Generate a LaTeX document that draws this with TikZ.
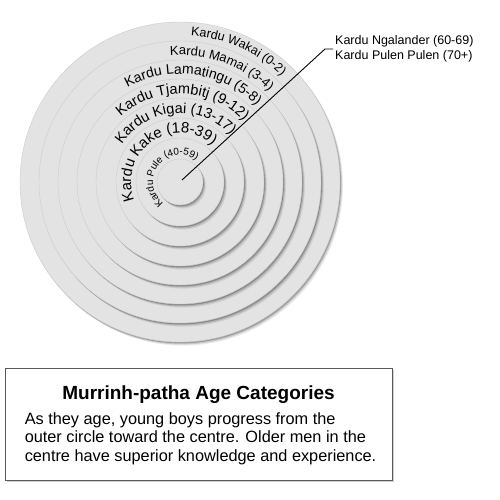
\documentclass[tikz,border=0pt]{standalone}
\usepackage{fontspec}
\setmainfont{Liberation Sans}
\usetikzlibrary{positioning, decorations.text, shadows}
\definecolor{ringgray}{HTML}{E3E3E3}

\begin{document}
\begin{tikzpicture}[x=1pt, y=1pt,
    ring/.style={fill=ringgray, draw=gray!40, line width=0.4pt},
    ringshade/.style={fill=black, opacity=#1},
    ringlabel/.style 2 args={decorate, decoration={text along path, text align=center,
        text={|\fontsize{#1}{#1}\selectfont|#2}}},
    infobox/.style={draw=gray!70!black, fill=white, line width=0.9pt,
        minimum width=387pt, minimum height=112pt, inner sep=0pt,
        drop shadow={shadow xshift=2pt, shadow yshift=-2pt, opacity=0.35}}]
    \useasboundingbox (0,0) rectangle (499,500);
    \coordinate (ctr) at (180,318);
    \coordinate (hub) at (182,320);
    \foreach \r in {160,141,122,103,84,64,44,23} {
        \fill[ringshade=0.08] (ctr) ++(3,-3.6) circle (\r);
        \fill[ringshade=0.14] (ctr) ++(2,-2.5) circle (\r);
        \fill[ringshade=0.22] (ctr) ++(1,-1.4) circle (\r);
        \draw[ring] (ctr) circle (\r);
    }
    \path[ringlabel={12.5}{Kardu Wakai (0-2)}] (ctr) ++(101:147) arc[start angle=101, end angle=31, radius=147];
    \path[ringlabel={13}{Kardu Mamai (3-4)}] (ctr) ++(110:127) arc[start angle=110, end angle=30, radius=127];
    \path[ringlabel={14}{Kardu Lamatingu (5-8)}] (ctr) ++(137:108) arc[start angle=137, end angle=27, radius=108];
    \path[ringlabel={14.5}{Kardu Tjambitj (9-12)}] (ctr) ++(148:88) arc[start angle=148, end angle=28, radius=88];
    \path[ringlabel={14.5}{Kardu Kigai (13-17)}] (ctr) ++(165:69) arc[start angle=165, end angle=25, radius=69];
    \path[ringlabel={15}{Kardu Kake (18-39)}] (ctr) ++(220:49) arc[start angle=220, end angle=30, radius=49];
    \path[ringlabel={10}{Kardu Pule (40-59)}] (ctr) ++(253:27) arc[start angle=253, end angle=33, radius=27];

    \node[anchor=west, align=left, inner sep=2pt, font=\fontsize{12.5}{15}\selectfont]
        (elders) at (333,451) {Kardu Ngalander (60-69)\\Kardu Pulen Pulen (70+)};
    \coordinate[left=8pt of elders.west] (bend);
    \draw[line width=0.9pt] (hub) -- (bend) -- (elders.west);

    \node[infobox] (legend) at (198.5,76) {};
    \node[below=18pt of legend.north, inner sep=0pt, font=\bfseries\fontsize{19}{22}\selectfont]
        (title) {Murrinh-patha Age Categories};
    \node[below right=44.6pt and 20pt of legend.north west, inner sep=0pt, align=left,
        font=\fontsize{16.3}{18.5}\selectfont] (blurb)
        {As they age, young boys progress from the\\
         outer circle toward the centre. Older men in the\\
         centre have superior knowledge and experience.};
\end{tikzpicture}
\end{document}
